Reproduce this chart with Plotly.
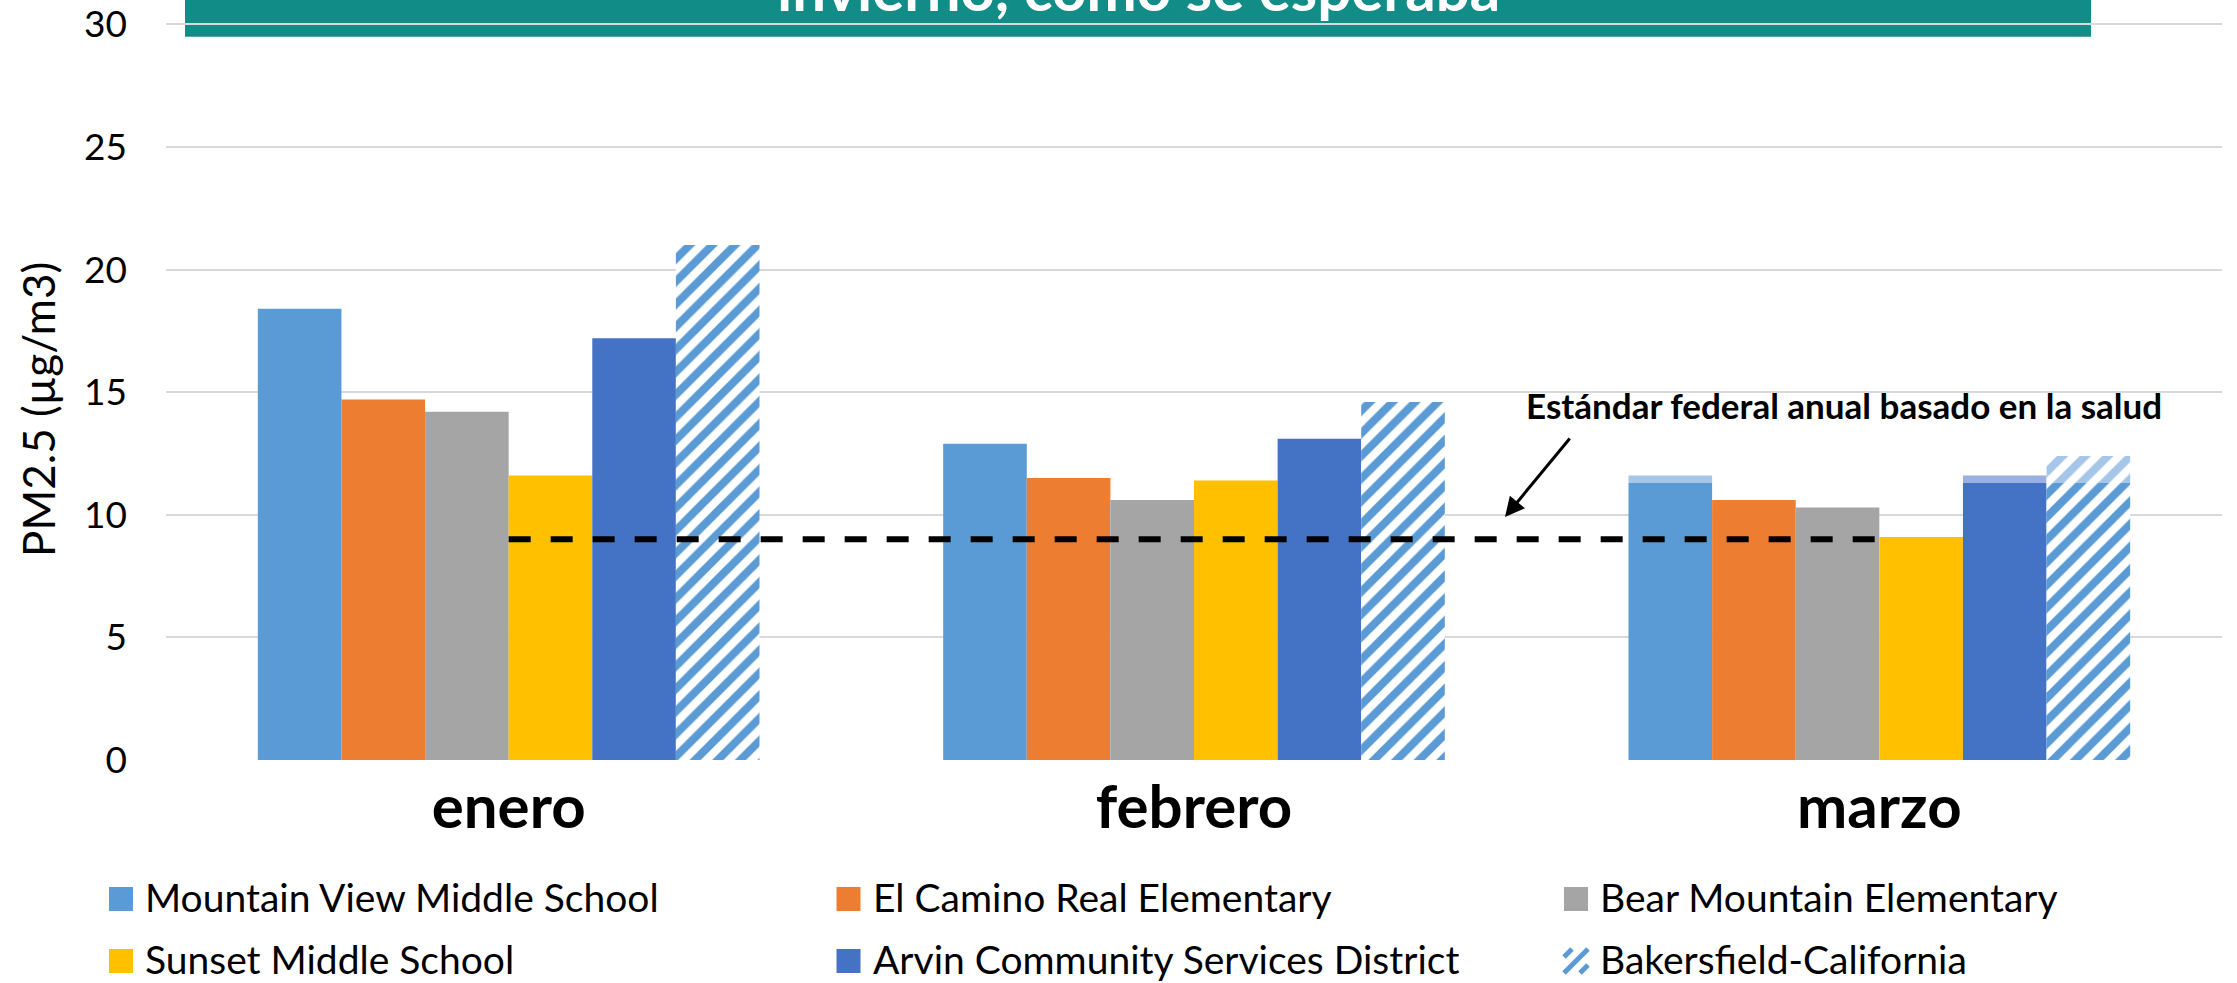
import plotly.graph_objects as go

# ---------------- data ----------------
months = ["enero", "febrero", "marzo"]
series_names = [
    "Mountain View Middle School",
    "El Camino Real Elementary",
    "Bear Mountain Elementary",
    "Sunset Middle School",
    "Arvin Community Services District",
    "Bakersfield-California",
]
mountain_view = [18.4, 12.9, 11.3]
el_camino = [14.7, 11.5, 10.6]
bear_mountain = [14.2, 10.6, 10.3]
sunset = [11.6, 11.4, 9.1]
arvin = [17.2, 13.1, 11.3]
bakersfield = [21.0, 14.6, 11.3]
# lighter top segment shown on top of the base value (marzo)
mountain_view_extra = [None, None, 0.3]
el_camino_extra = [None, None, None]
bear_mountain_extra = [None, None, None]
sunset_extra = [None, None, None]
arvin_extra = [None, None, 0.3]
bakersfield_extra = [None, None, 1.1]

standard_x = ["enero", "marzo"]
standard_y = [9, 9]
y_ticks = [0, 5, 10, 15, 20, 25, 30]

banner_text = "invierno, como se esperaba"
standard_label = "Estándar federal anual basado en la salud"
y_title = "PM2.5 (µg/m3)"

# ---------------- style ----------------
colors = ["#5B9BD5", "#ED7D31", "#A5A5A5", "#FFC000", "#4472C4", "#5B9BD5"]
light_colors = ["#A6C6E9", "#F4B183", "#C9C9C9", "#FFD966", "#9AB0DE", "#A6C6E9"]
hatched = [False, False, False, False, False, True]
FONT = "Lato"

W, H = 2237, 983
ml, mr, mt, mb = 166, 15, 22, 223
pw, ph = W - ml - mr, H - mt - mb


def px_x(x):
    return (x - ml) / pw


def px_y(y):
    return (H - mb - y) / ph


base_values = [mountain_view, el_camino, bear_mountain, sunset, arvin, bakersfield]
extra_values = [mountain_view_extra, el_camino_extra, bear_mountain_extra,
                sunset_extra, arvin_extra, bakersfield_extra]

fig = go.Figure()
for i, (name, vals) in enumerate(zip(series_names, base_values)):
    if hatched[i]:
        marker = dict(color="white",
                      pattern=dict(shape="/", fgcolor=colors[i], bgcolor="white",
                                   size=16, solidity=0.5, fillmode="replace"),
                      line=dict(width=0))
    else:
        marker = dict(color=colors[i], line=dict(width=0))
    fig.add_trace(go.Bar(x=months, y=vals, name=name, marker=marker,
                         offsetgroup=str(i), showlegend=False))

for i, (name, extra) in enumerate(zip(series_names, extra_values)):
    if all(v is None for v in extra):
        continue
    if hatched[i]:
        marker = dict(color="white",
                      pattern=dict(shape="/", fgcolor=light_colors[i], bgcolor="white",
                                   size=16, solidity=0.5, fillmode="replace"),
                      line=dict(width=0))
    else:
        marker = dict(color=light_colors[i], line=dict(width=0))
    fig.add_trace(go.Bar(x=months, y=extra, base=base_values[i], name=name + " (extra)",
                         marker=marker, offsetgroup=str(i), showlegend=False))

fig.add_trace(go.Scatter(x=standard_x, y=standard_y, mode="lines",
                         line=dict(color="black", width=6, dash="22px,20px"),
                         showlegend=False, name="Estándar"))

shapes = []
annotations = []

# banner at top
shapes.append(dict(type="rect", xref="paper", yref="paper",
                   x0=px_x(185), x1=px_x(2091), y0=px_y(36.7), y1=px_y(-30),
                   fillcolor="#128C86", line=dict(width=0), layer="below"))
annotations.append(dict(text="<b>" + banner_text + "</b>", xref="paper", yref="paper",
                        x=px_x(1138), y=px_y(26), xanchor="center", yanchor="bottom",
                        showarrow=False, font=dict(family=FONT, size=60, color="white")))

# y-axis title
annotations.append(dict(text=y_title, xref="paper", yref="paper",
                        x=px_x(38), y=px_y(410), xanchor="center", yanchor="middle",
                        textangle=-90, showarrow=False,
                        font=dict(family=FONT, size=44, color="black")))

# standard label and arrow
annotations.append(dict(text="<b>" + standard_label + "</b>", xref="paper", yref="paper",
                        x=px_x(1844), y=px_y(405), xanchor="center", yanchor="middle",
                        showarrow=False, font=dict(family=FONT, size=35, color="black")))
annotations.append(dict(text="", xref="paper", yref="paper",
                        x=px_x(1505), y=px_y(517), ax=66, ay=-80,
                        showarrow=True, arrowhead=2, arrowsize=1.3, arrowwidth=3,
                        arrowcolor="black"))

# manual legend
col_x = [109, 836.5, 1564]
row_y = [899, 961]
sw = 24
for i, name in enumerate(series_names):
    cx = col_x[i % 3]
    cy = row_y[i // 3]
    if hatched[i]:
        x0, yt = cx, cy - sw / 2
        segs = [((x0, yt + sw), (x0 + sw, yt)),
                ((x0 + 16, yt + sw), (x0 + sw, yt + 16)),
                ((x0, yt + 8), (x0 + 8, yt))]
        for (a, b) in segs:
            shapes.append(dict(type="line", xref="paper", yref="paper",
                               x0=px_x(a[0]), y0=px_y(a[1]), x1=px_x(b[0]), y1=px_y(b[1]),
                               line=dict(color=colors[i], width=5)))
    else:
        shapes.append(dict(type="rect", xref="paper", yref="paper",
                           x0=px_x(cx), x1=px_x(cx + sw),
                           y0=px_y(cy + sw / 2), y1=px_y(cy - sw / 2),
                           fillcolor=colors[i], line=dict(width=0)))
    annotations.append(dict(text=name, xref="paper", yref="paper",
                            x=px_x(cx + 34), y=px_y(cy - 2), xanchor="left", yanchor="middle",
                            showarrow=False, font=dict(family=FONT, size=39, color="black")))

fig.update_layout(
    width=W, height=H,
    margin=dict(l=ml, r=mr, t=mt, b=mb, pad=0, autoexpand=False),
    paper_bgcolor="white", plot_bgcolor="white",
    barmode="group", bargap=0.268, bargroupgap=0,
    showlegend=False,
    shapes=shapes, annotations=annotations,
    xaxis=dict(type="category", categoryorder="array", categoryarray=months,
               range=[-0.5, 2.5], showgrid=False, showline=False, zeroline=False,
               ticks="", ticklabelstandoff=7, automargin=False,
               tickfont=dict(family=FONT, size=60, color="black", weight="bold")),
    yaxis=dict(range=[0, 30.1], tickvals=y_ticks, showgrid=True, gridcolor="#D9D9D9",
               gridwidth=2, zeroline=False, showline=False, ticks="",
               ticklabelstandoff=38, ticklabeloverflow="allow", automargin=False,
               tickfont=dict(family=FONT, size=37, color="black")),
)

fig.write_html("out.html", config={"displayModeBar": False},
               post_script="document.body.style.margin='0px';")
